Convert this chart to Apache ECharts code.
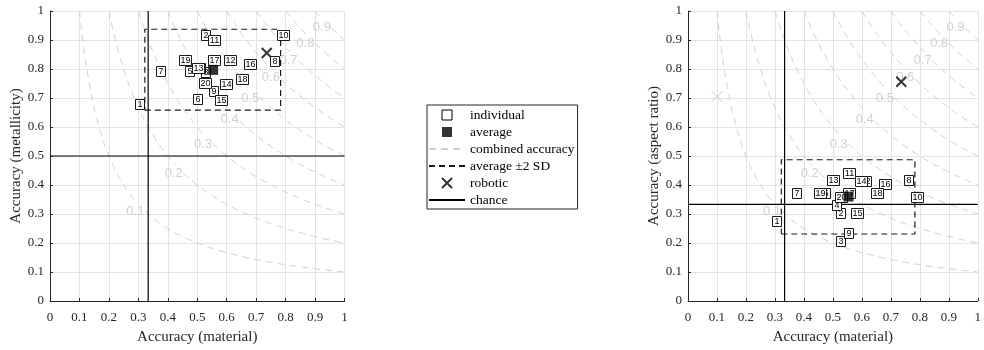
<!DOCTYPE html>
<html>
<head>
<meta charset="utf-8">
<script src="https://cdn.jsdelivr.net/npm/echarts@6/dist/echarts.min.js"></script>
<style>
    html, body { margin: 0; background: #fff; }
    #chart { width: 984px; height: 350px; }
</style>
</head>
<body>
<div id="chart"></div>
<script>
// participant ids, drawn in this order
const ids = ['1', '2', '3', '4', '5', '6', '7', '8', '9', '10', '11', '12', '13', '14', '15', '16', '17', '18', '19', '20']
const material = [0.305, 0.527, 0.528, 0.512, 0.474, 0.501, 0.375, 0.762, 0.555, 0.792, 0.556, 0.612, 0.501, 0.597, 0.582, 0.680, 0.557, 0.653, 0.457, 0.527]
const metallicity = [0.680, 0.917, 0.790, 0.805, 0.792, 0.697, 0.793, 0.829, 0.723, 0.916, 0.900, 0.831, 0.804, 0.750, 0.694, 0.818, 0.831, 0.765, 0.831, 0.751]
const aspectRatio = [0.277, 0.304, 0.207, 0.331, 0.374, 0.416, 0.374, 0.416, 0.234, 0.359, 0.443, 0.415, 0.416, 0.415, 0.304, 0.403, 0.374, 0.374, 0.374, 0.359]

// average and +-2 SD box
const avgMaterial = [0.554]
const avgMetallicity = [0.797]
const avgAspect = [0.36]
const sdMaterial = [0.322, 0.783]
const sdMetallicity = [0.658, 0.937]
const sdAspect = [0.231, 0.487]

// robotic
const roboticMaterial = [0.736]
const roboticMetallicity = [0.855]
const roboticAspect = [0.756]
const priorMaterial = [0.1]
const priorAspect = [0.705]

// chance levels
const chanceMaterial = 1 / 3
const chanceMetallicity = 0.5
const chanceAspect = 1 / 3

// combined accuracy iso-lines (material * other) and where their labels sit
const levels = [0.1, 0.2, 0.3, 0.4, 0.5, 0.6, 0.7, 0.8, 0.9]
const levelLabelX = [0.29, 0.42, 0.52, 0.61, 0.68, 0.75, 0.81, 0.867, 0.923]
const levelLabelY = [0.31, 0.44, 0.54, 0.626, 0.70, 0.77, 0.83, 0.889, 0.943]

const ticks = ['0', '0.1', '0.2', '0.3', '0.4', '0.5', '0.6', '0.7', '0.8', '0.9', '1']

const serif = 'Liberation Serif'
const axisColor = '#262626'
const GAP = ['-', '-']

const isoLines = () => {
    const pts = []
    levels.forEach((c, k) => {
        let inGap = false
        for (let x = c; x <= 1.0001; x += 0.004) {
            const y = c / x
            const hide = Math.abs(x - levelLabelX[k]) < 0.032 && Math.abs(y - levelLabelY[k]) < 0.026
            if (hide) {
                if (!inGap) pts.push(GAP)
                inGap = true
                continue
            }
            inGap = false
            pts.push([x, y])
        }
        pts.push(GAP)
    })
    return pts
}

const box = (xs, ys) => [[xs[0], ys[0]], [xs[1], ys[0]], [xs[1], ys[1]], [xs[0], ys[1]], [xs[0], ys[0]]]

const xAxis = (gridIndex) => ({
    gridIndex,
    type: 'value',
    min: 0,
    max: 1,
    interval: 0.1,
    name: 'Accuracy (material)',
    nameLocation: 'middle',
    nameGap: 29,
    nameTextStyle: { fontFamily: serif, fontSize: 15, color: axisColor },
    axisLine: { lineStyle: { color: axisColor, width: 1 } },
    axisTick: { inside: true, length: 3, lineStyle: { color: axisColor } },
    axisLabel: { fontFamily: serif, fontSize: 13, color: axisColor, margin: 10, formatter: (v) => ticks[Math.round(v * 10)] },
    splitLine: { show: true, lineStyle: { color: '#e3e3e3', width: 1 } },
})

const yAxis = (gridIndex, name) => ({
    gridIndex,
    type: 'value',
    min: 0,
    max: 1,
    interval: 0.1,
    name,
    nameLocation: 'middle',
    nameGap: 25,
    nameTextStyle: { fontFamily: serif, fontSize: 15, color: axisColor },
    axisLine: { show: true, lineStyle: { color: axisColor, width: 1 } },
    axisTick: { show: true, inside: true, length: 3, lineStyle: { color: axisColor } },
    axisLabel: { fontFamily: serif, fontSize: 13, color: axisColor, margin: 6, formatter: (v) => ticks[Math.round(v * 10)] },
    splitLine: { show: true, lineStyle: { color: '#e3e3e3', width: 1 } },
})

const renderBox = (params, api) => {
    const p = api.coord([api.value(0), api.value(1)])
    const label = ids[params.dataIndex]
    const w = label.length > 1 ? 12 : 9
    const h = 10
    const x = Math.round(p[0] - w / 2) + 0.5
    const y = Math.round(p[1] - h / 2) + 0.5
    return {
        type: 'group',
        children: [
            { type: 'rect', shape: { x, y, width: w, height: h }, style: { fill: '#fff', stroke: '#1a1a1a', lineWidth: 1 } },
            { type: 'text', style: { text: label, x: x + w / 2, y: y + h / 2 + 0.5, align: 'center', verticalAlign: 'middle', fontFamily: 'Liberation Sans', fontSize: 9, fill: '#000' } },
        ],
    }
}

const panelSeries = (i, ys, avgY, sdY, robY, chanceY) => [
    {
        name: 'combined accuracy',
        type: 'line',
        xAxisIndex: i,
        yAxisIndex: i,
        data: isoLines(),
        showSymbol: false,
        symbol: 'none',
        connectNulls: false,
        silent: true,
        z: 1,
        itemStyle: { color: '#cfcfcf' },
        lineStyle: { color: '#cfcfcf', width: 1, type: [7, 5] },
    },
    {
        name: 'levels',
        type: 'scatter',
        xAxisIndex: i,
        yAxisIndex: i,
        data: levels.map((c, k) => [levelLabelX[k], levelLabelY[k], c]),
        symbolSize: 1,
        itemStyle: { color: 'rgba(0,0,0,0)' },
        silent: true,
        z: 1,
        label: {
            show: true,
            position: 'inside',
            formatter: (p) => String(p.value[2]),
            fontFamily: 'Liberation Sans',
            fontSize: 13,
            color: '#c4c4c4',
        },
    },
    {
        name: 'chance',
        type: 'line',
        xAxisIndex: i,
        yAxisIndex: i,
        data: [[chanceMaterial, 0], [chanceMaterial, 1], GAP, [0, chanceY], [1, chanceY]],
        symbol: 'none',
        connectNulls: false,
        z: 2,
        itemStyle: { color: '#000' },
        lineStyle: { color: '#000', width: 1.2 },
    },
    {
        name: 'average ±2 SD',
        type: 'line',
        xAxisIndex: i,
        yAxisIndex: i,
        data: box(sdMaterial, sdY),
        symbol: 'none',
        z: 3,
        itemStyle: { color: '#1a1a1a' },
        lineStyle: { color: '#1a1a1a', width: 1.2, type: [6, 4] },
    },
    {
        name: 'robotic',
        type: 'scatter',
        xAxisIndex: i,
        yAxisIndex: i,
        data: [[roboticMaterial[0], robY[0]]],
        symbol: 'path://M0,0L10,10M10,0L0,10',
        symbolSize: 10,
        z: 4,
        itemStyle: { color: '#000', borderColor: '#000', borderWidth: 2 },
    },
    {
        name: 'individual',
        type: 'custom',
        xAxisIndex: i,
        yAxisIndex: i,
        data: material.map((m, k) => [m, ys[k]]),
        renderItem: renderBox,
        z: 5,
        itemStyle: { color: '#fff', borderColor: '#000', borderWidth: 1 },
    },
    {
        name: 'average',
        type: 'scatter',
        xAxisIndex: i,
        yAxisIndex: i,
        data: [[avgMaterial[0], avgY[0]]],
        symbol: 'rect',
        symbolSize: 10,
        z: 6,
        itemStyle: { color: '#000' },
    },
]

const squareIcon = 'path://M0,0H10V10H0Z'
const noDot = { color: 'rgba(0,0,0,0)', borderWidth: 0 }

const option = {
    animation: false,
    grid: [
        { left: 50, top: 11, width: 294.5, height: 294 },
        { left: 688, top: 11, width: 295.3, height: 294.4 },
    ],
    xAxis: [xAxis(0), xAxis(1)],
    yAxis: [yAxis(0, 'Accuracy (metallicity)'), yAxis(1, 'Accuracy (aspect ratio)')],
    legend: {
        orient: 'vertical',
        left: 427,
        top: 105,
        padding: [3, 3, 2, 1],
        itemWidth: 36,
        itemHeight: 10,
        itemGap: 3,
        itemTextGap: 2,
        borderColor: axisColor,
        borderWidth: 1,
        selectedMode: false,
        textStyle: { fontFamily: serif, fontSize: 13.5, color: '#000', lineHeight: 14 },
        data: [
            { name: 'individual', icon: squareIcon, itemStyle: { color: '#fff', borderColor: '#000', borderWidth: 1 } },
            { name: 'average', icon: squareIcon, itemStyle: { color: '#000', borderWidth: 0 } },
            { name: 'combined accuracy', itemStyle: noDot },
            { name: 'average ±2 SD', itemStyle: noDot },
            { name: 'robotic', icon: 'path://M0,0L10,10M10,0L0,10', itemStyle: { color: '#000', borderColor: '#000', borderWidth: 2 } },
            { name: 'chance', itemStyle: noDot },
        ],
    },
    series: [
        ...panelSeries(0, metallicity, avgMetallicity, sdMetallicity, roboticMetallicity, chanceMetallicity),
        {
            name: 'robotic (reference)',
            type: 'scatter',
            xAxisIndex: 1,
            yAxisIndex: 1,
            data: [[priorMaterial[0], priorAspect[0]]],
            symbol: 'path://M0,0L10,10M10,0L0,10',
            symbolSize: 11,
            z: 4,
            itemStyle: { color: '#bdbdbd', borderColor: '#bdbdbd', borderWidth: 1 },
        },
        ...panelSeries(1, aspectRatio, avgAspect, sdAspect, roboticAspect, chanceAspect),
    ],
}

const chart = echarts.init(document.getElementById('chart'))
chart.setOption(option)
</script>
</body>
</html>
